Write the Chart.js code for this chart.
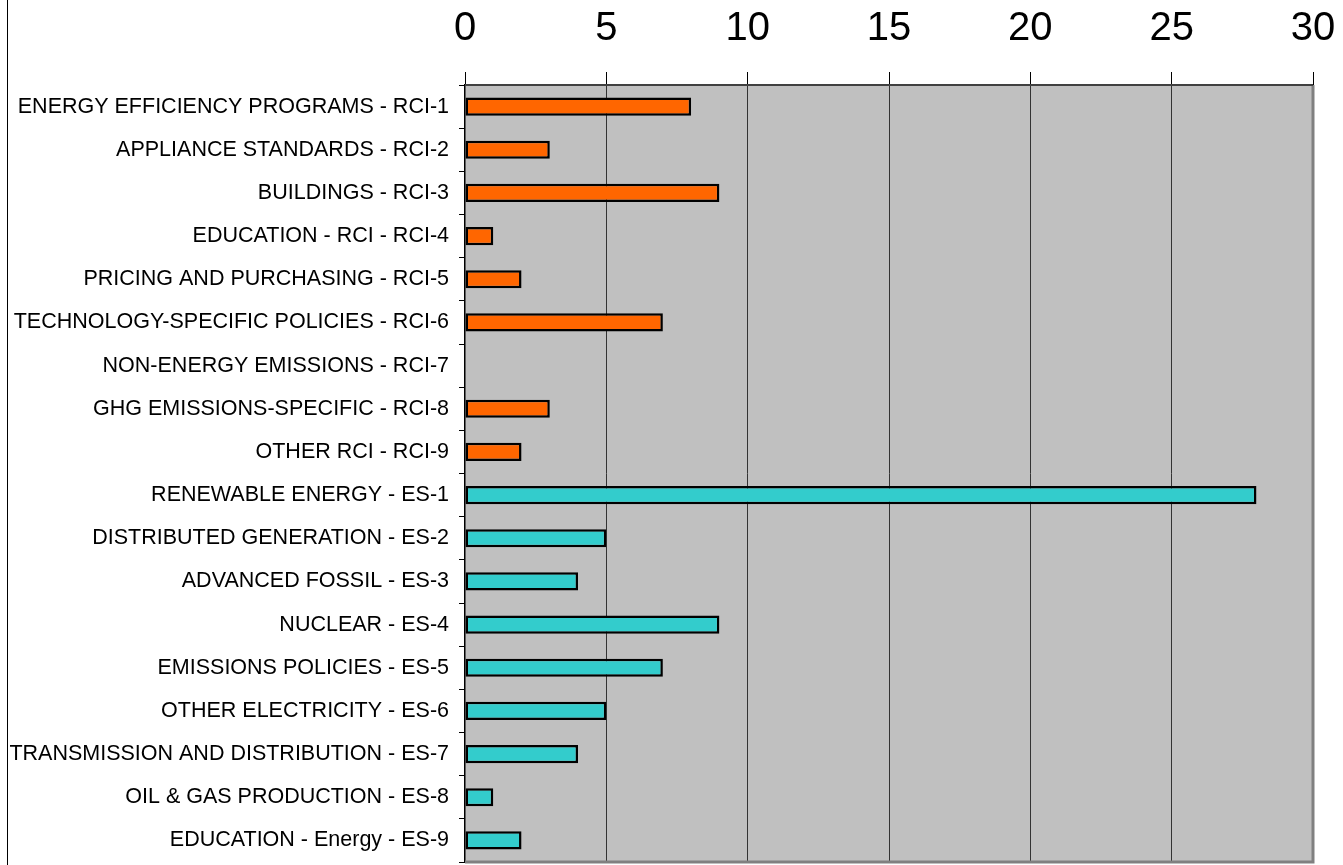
<!DOCTYPE html>
<html>
<head>
<meta charset="utf-8">
<script src="https://cdn.jsdelivr.net/npm/chart.js@4"></script>
<style>
  html, body { margin: 0; padding: 0; background: #fff; }
  #wrap { position: relative; width: 1343px; height: 865px; }
  #frame { position: absolute; left: 7px; top: 0; width: 0; height: 865px; border-left: 1.5px solid #000; }
</style>
</head>
<body>
<div id="wrap">
  <canvas id="BarChart" width="1343" height="865"></canvas>
  <div id="frame"></div>
</div>
<script>
const categories = [
  "ENERGY EFFICIENCY PROGRAMS - RCI-1",
  "APPLIANCE STANDARDS - RCI-2",
  "BUILDINGS - RCI-3",
  "EDUCATION - RCI - RCI-4",
  "PRICING AND PURCHASING - RCI-5",
  "TECHNOLOGY-SPECIFIC POLICIES - RCI-6",
  "NON-ENERGY EMISSIONS - RCI-7",
  "GHG EMISSIONS-SPECIFIC - RCI-8",
  "OTHER RCI - RCI-9",
  "RENEWABLE ENERGY - ES-1",
  "DISTRIBUTED GENERATION - ES-2",
  "ADVANCED FOSSIL - ES-3",
  "NUCLEAR - ES-4",
  "EMISSIONS POLICIES - ES-5",
  "OTHER ELECTRICITY - ES-6",
  "TRANSMISSION AND DISTRIBUTION - ES-7",
  "OIL & GAS PRODUCTION - ES-8",
  "EDUCATION - Energy - ES-9"
];
const counts = [8, 3, 9, 1, 2, 7, 0, 3, 2, 28, 5, 4, 9, 7, 5, 4, 1, 2];
const xTicks = [0, 5, 10, 15, 20, 25, 30];

// RCI rows orange, ES rows teal
const barColors = categories.map(c => c.indexOf(" ES-") >= 0 ? "#33CCCC" : "#FF6600");

const plotBg = {
  id: "plotBg",
  beforeDraw(chart) {
    const a = chart.chartArea;
    const ctx = chart.ctx;
    ctx.save();
    ctx.fillStyle = "#C0C0C0";
    ctx.fillRect(a.left, a.top, a.right - a.left, a.bottom - a.top);
    ctx.restore();
  },
  afterDatasetsDraw(chart) {
    const a = chart.chartArea;
    const ctx = chart.ctx;
    ctx.save();
    ctx.lineWidth = 3;
    ctx.strokeStyle = "#808080";
    ctx.beginPath();
    ctx.moveTo(a.right, a.top);
    ctx.lineTo(a.right, a.bottom);
    ctx.lineTo(a.left, a.bottom);
    ctx.stroke();
    ctx.lineWidth = 2;
    ctx.strokeStyle = "#404040";
    ctx.beginPath();
    ctx.moveTo(a.left, a.top);
    ctx.lineTo(a.right, a.top);
    ctx.stroke();
    ctx.restore();
  }
};

let chart;

function createBarChart() {
  const ctx = document.getElementById("BarChart").getContext("2d");
  chart = new Chart(ctx, {
    type: "bar",
    data: {
      labels: categories,
      datasets: [{
        data: counts,
        backgroundColor: barColors,
        borderColor: "#000",
        borderWidth: 2.5,
        borderSkipped: false,
        barPercentage: 0.42,
        categoryPercentage: 1
      }]
    },
    options: {
      indexAxis: "y",
      responsive: false,
      animation: false,
      layout: { padding: { left: 0, right: 30, top: 0, bottom: 3 } },
      plugins: {
        legend: { display: false },
        tooltip: { enabled: false }
      },
      scales: {
        x: {
          position: "top",
          min: 0,
          max: 30,
          afterBuildTicks: s => { s.ticks = xTicks.map(v => ({ value: v })); },
          afterFit: s => { s.height = 85; s.paddingLeft = 0; s.paddingRight = 0; },
          border: { display: false },
          grid: {
            color: c => (c.tick && (c.tick.value === 0 || c.tick.value === 30)) ? "rgba(0,0,0,0)" : "#333",
            tickColor: "#000",
            tickLength: 13,
            lineWidth: 1
          },
          ticks: {
            color: "#000",
            padding: 19,
            font: { family: "Liberation Sans, Arial, sans-serif", size: 40 }
          }
        },
        y: {
          afterFit: s => { s.width = 465; s.paddingTop = 0; s.paddingBottom = 0; },
          border: { display: true, color: "#000", width: 1.5 },
          grid: {
            offset: true,
            drawOnChartArea: false,
            tickColor: "#000",
            tickLength: 6
          },
          ticks: {
            color: "#000",
            padding: 10,
            autoSkip: false,
            font: { family: "Liberation Sans, Arial, sans-serif", size: 21.5 }
          }
        }
      }
    },
    plugins: [plotBg]
  });
}

createBarChart();
</script>
</body>
</html>
